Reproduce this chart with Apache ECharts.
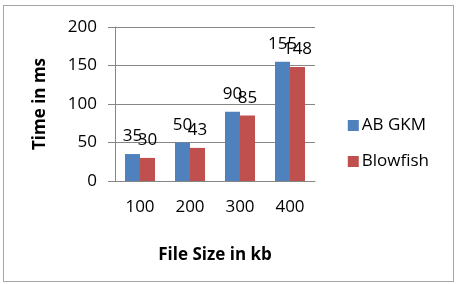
<!DOCTYPE html>
<html><head><meta charset="utf-8">
<script src="https://cdn.jsdelivr.net/npm/echarts@6/dist/echarts.min.js"></script>
<style>
html,body{margin:0;padding:0;background:#fff;}
#frame{position:absolute;left:3px;top:5px;width:449px;height:275px;border:1.5px solid #a6a6a6;}
#c{position:absolute;left:0;top:0;width:460px;height:284px;}
</style></head>
<body>
<div id="frame"></div>
<div id="c"></div>
<script>
const categories = ['100', '200', '300', '400'];
const abGkm = [35, 50, 90, 155];
const blowfish = [30, 43, 85, 148];
const seriesNames = ['AB GKM', 'Blowfish'];
const yTicks = [0, 50, 100, 150, 200];

const FONT = 'Open Sans';
const chart = echarts.init(document.getElementById('c'), null, {renderer: 'canvas'});
const labelStyle = {show: true, position: 'top', distance: 9, color: '#000', fontFamily: FONT, fontSize: 17};
chart.setOption({
  animation: false,
  textStyle: {fontFamily: FONT},
  grid: {left: 115, right: 145, top: 27, bottom: 103, containLabel: false},
  legend: {
    orient: 'vertical', right: 26, top: 112, itemWidth: 11, itemHeight: 11, itemGap: 19,
    icon: 'rect',
    textStyle: {fontFamily: FONT, fontSize: 17, color: '#000', padding: [0, 0, 0, -2]},
    data: seriesNames
  },
  xAxis: {
    type: 'category', data: categories,
    name: 'File Size in kb', nameLocation: 'middle', nameGap: 66,
    nameTextStyle: {fontFamily: FONT, fontWeight: 'bold', fontSize: 17, color: '#000'},
    axisLine: {lineStyle: {color: '#868686', width: 1}},
    axisTick: {show: false},
    axisLabel: {color: '#000', fontFamily: FONT, fontSize: 17, margin: 18}
  },
  yAxis: {
    type: 'value', min: yTicks[0], max: yTicks[yTicks.length - 1], interval: 50,
    name: 'Time in ms', nameLocation: 'middle', nameGap: 66, nameRotate: 90,
    nameTextStyle: {fontFamily: FONT, fontWeight: 'bold', fontSize: 17, color: '#000'},
    axisLine: {show: true, lineStyle: {color: '#868686', width: 1}},
    axisTick: {show: true, length: 7, lineStyle: {color: '#868686'}},
    splitLine: {lineStyle: {color: '#868686', width: 1}},
    axisLabel: {color: '#000', fontFamily: FONT, fontSize: 17, margin: 18}
  },
  series: [
    {name: seriesNames[0], type: 'bar', data: abGkm, barGap: '0%', barCategoryGap: '40%',
     itemStyle: {color: '#4F81BD'}, label: labelStyle},
    {name: seriesNames[1], type: 'bar', data: blowfish, barGap: '0%', barCategoryGap: '40%',
     itemStyle: {color: '#C0504D'}, label: labelStyle}
  ]
});
</script>
</body></html>
